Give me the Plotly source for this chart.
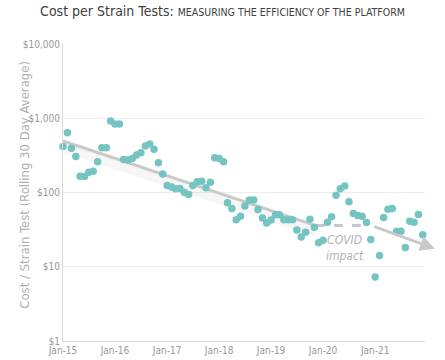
import math
import pandas as pd
import plotly.graph_objects as go

# Monthly cost per strain test (rolling 30-day average), Jan-2015 .. Dec-2021
dates = pd.date_range("2015-01-01", periods=84, freq="MS")
cost = [415, 637, 393, 306, 166, 164, 188, 194, 260, 402, 402, 920,
        838, 838, 279, 273, 288, 319, 344, 422, 450, 381, 252, 177,
        124, 119, 112, 113, 101, 94, 124, 140, 142, 116, 137, 294,
        288, 260, 73, 61, 43, 48, 66, 79, 79, 59, 45.5, 38.7,
        42.5, 50, 50, 43, 43, 43, 31.3, 25.2, 29.1, 43.6, 34, 21.1,
        22.7, 39.7, 47, 92, 112, 122, 75, 52, 49, 47.8, 39.3, 23.2,
        7.3, 14.2, 46, 59.5, 60.8, 30, 30, 18.2, 41, 39.7, 50.4, 27]

# Trend line (pre-COVID fit, COVID plateau, post-COVID continuation)
trend_dates = ["2015-01-01", "2019-11-12"]
trend_vals = [497, 35.8]
covid_dates = ["2019-11-12", "2020-11-05"]
covid_vals = [35.8, 35.8]
post_dates = ["2020-12-15", "2022-02-25"]
post_vals = [35.2, 17.5]

tick_vals = [1, 10, 100, 1000, 10000]
tick_text = ["$1", "$10", "$100", "$1,000", "$10,000"]

FONT = "DejaVu Sans Condensed, Liberation Sans Narrow, Lato, sans-serif"
LINE = "#c9c9c9"

fig = go.Figure()

# soft shadow under trend
fig.add_trace(go.Scatter(x=trend_dates, y=[v * 0.86 for v in trend_vals], mode="lines",
                         line=dict(color="rgba(0,0,0,0.035)", width=12),
                         hoverinfo="skip", showlegend=False))
fig.add_trace(go.Scatter(x=trend_dates, y=trend_vals, mode="lines",
                         line=dict(color=LINE, width=3), hoverinfo="skip", showlegend=False))
fig.add_trace(go.Scatter(x=covid_dates, y=covid_vals, mode="lines",
                         line=dict(color=LINE, width=3, dash="dash"),
                         hoverinfo="skip", showlegend=False))

fig.add_trace(go.Scatter(x=dates, y=cost, mode="markers",
                         marker=dict(color="#74c5c2", size=7.5),
                         cliponaxis=False, showlegend=False))

# post-COVID continuation arrow (log axis -> annotation coords in log10)
fig.add_annotation(x=post_dates[1], y=math.log10(post_vals[1]),
                   ax=post_dates[0], ay=math.log10(post_vals[0]),
                   xref="x", yref="y", axref="x", ayref="y",
                   showarrow=True, arrowhead=2, arrowsize=1, arrowwidth=3,
                   arrowcolor=LINE, text="")

fig.add_annotation(x="2020-06-01", y=math.log10(18), xref="x", yref="y", showarrow=False,
                   text="<i>COVID<br>impact</i>",
                   font=dict(family=FONT, size=12, color="#b3b3b3"))

fig.add_annotation(x=-0.135, y=0.525, xref="paper", yref="paper", showarrow=False,
                   textangle=-90, text="Cost / Strain Test (Rolling 30 Day Average)",
                   font=dict(family=FONT, size=13, color="#b0b0b0"))

fig.update_layout(
    width=445, height=360,
    margin=dict(l=63, r=20, t=44, b=19, autoexpand=False),
    paper_bgcolor="white", plot_bgcolor="white",
    font=dict(family=FONT),
    title=dict(text="Cost per Strain Tests: <span style='font-size:10.5px'>MEASURING THE EFFICIENCY OF THE PLATFORM</span>",
               x=0.5, xanchor="center", y=0.97, yref="container", yanchor="middle",
               font=dict(family=FONT, size=14, color="#404040")),
)
fig.update_xaxes(type="date", range=["2015-01-01", "2021-12-17"],
                 tickformat="%b-%y", dtick="M12", tick0="2015-01-01",
                 showgrid=False, showline=True, linecolor="#d9d9d9", linewidth=1,
                 ticks="", tickfont=dict(size=10, color="#999999"), zeroline=False)
fig.update_yaxes(type="log", range=[0, 4], tickvals=tick_vals, ticktext=tick_text,
                 showgrid=True, gridcolor="#ececec", gridwidth=1,
                 showline=True, linecolor="#d9d9d9", linewidth=1,
                 ticks="", tickfont=dict(size=10, color="#999999"), zeroline=False)

fig.write_html("out.html", config={"displayModeBar": False},
               post_script="document.body.style.margin='0';")
